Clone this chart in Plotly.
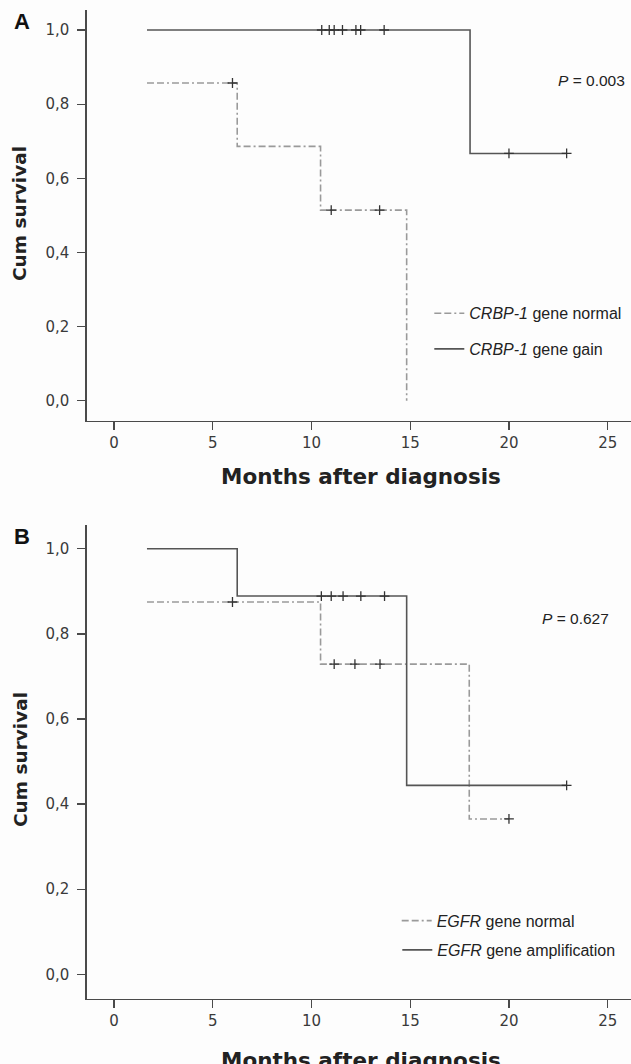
import plotly.graph_objects as go

# ---------------- data ----------------
# Panel A : CRBP-1
a_normal_t = [1.67, 6.24, 10.46, 14.82]
a_normal_s = [0.857, 0.686, 0.514, 0.0]
a_normal_cens = [6.0, 11.0, 13.45]

a_gain_t = [1.67, 18.03, 22.92]
a_gain_s = [1.0, 0.667, 0.667]
a_gain_cens = [10.52, 10.9, 11.15, 11.57, 12.25, 12.49, 13.68, 20.0, 22.92]

# Panel B : EGFR
b_normal_t = [1.67, 10.46, 17.99, 20.0]
b_normal_s = [0.875, 0.729, 0.365, 0.365]
b_normal_cens = [6.0, 11.15, 12.2, 13.47, 20.0]

b_amp_t = [1.67, 6.24, 14.82, 22.92]
b_amp_s = [1.0, 0.889, 0.444, 0.444]
b_amp_cens = [10.5, 11.0, 11.6, 12.5, 13.7, 22.92]

x_ticks = [0, 5, 10, 15, 20, 25]
y_ticks = [0.0, 0.2, 0.4, 0.6, 0.8, 1.0]
y_ticklabels = ["0,0", "0,2", "0,4", "0,6", "0,8", "1,0"]

p_a = "<i>P</i> = 0.003"
p_b = "<i>P</i> = 0.627"

# ---------------- styling ----------------
W, H = 631, 1064
BG = "#fdfdfd"
AX = "#4a4a4a"
SOLID = "#555555"
DASHC = "#9a9a9a"
MARK = "#333333"
DASH = "7px,3px,7px,3px,2px,3px"
TICKFONT = dict(family="DejaVu Sans", size=15, color="#3a3a3a")
LEGFONT = dict(family="Liberation Sans", size=16, color="#222222")
PFONT = dict(family="Liberation Sans", size=15.5, color="#222222")


def px_x(x):
    return x / W


def px_y(y):
    return 1 - y / H


def step_at(ts, ss, t):
    v = ss[0]
    for ti, si in zip(ts, ss):
        if t >= ti:
            v = si
    return v


fig = go.Figure()


def add_curve(ts, ss, cens, name, dashed, xa, ya, legend):
    fig.add_trace(go.Scatter(
        x=ts, y=ss, mode="lines", line_shape="hv", name=name,
        line=dict(color=DASHC if dashed else SOLID, width=1.6,
                  dash=DASH if dashed else "solid"),
        xaxis=xa, yaxis=ya, legend=legend, showlegend=True,
        hoverinfo="skip"))
    fig.add_trace(go.Scatter(
        x=cens, y=[step_at(ts, ss, c) for c in cens], mode="markers",
        marker=dict(symbol="cross-thin", size=7,
                    line=dict(color=MARK, width=1.3)),
        xaxis=xa, yaxis=ya, showlegend=False, hoverinfo="skip"))


add_curve(a_normal_t, a_normal_s, a_normal_cens,
          "<i>CRBP-1</i> gene normal", True, "x", "y", "legend")
add_curve(a_gain_t, a_gain_s, a_gain_cens,
          "<i>CRBP-1</i> gene gain", False, "x", "y", "legend2")
add_curve(b_normal_t, b_normal_s, b_normal_cens,
          "<i>EGFR</i> gene normal", True, "x2", "y2", "legend3")
add_curve(b_amp_t, b_amp_s, b_amp_cens,
          "<i>EGFR</i> gene amplification", False, "x2", "y2", "legend4")

xdom = [px_x(86.7), 1.0]
axis_common = dict(showline=True, linecolor=AX, linewidth=1.4, ticks="outside",
                   ticklen=8, tickwidth=1.3, tickcolor=AX, showgrid=False,
                   zeroline=False, tickfont=TICKFONT, fixedrange=True)

fig.update_layout(
    width=W, height=H, margin=dict(l=0, r=0, t=0, b=0),
    paper_bgcolor=BG, plot_bgcolor=BG,
    xaxis=dict(domain=xdom, anchor="y", range=[-1.382, 26.18],
               tickvals=x_ticks, **axis_common),
    yaxis=dict(domain=[px_y(420.7), px_y(10)], anchor="x",
               range=[-0.054, 1.054], tickvals=y_ticks,
               ticktext=y_ticklabels, ticklabelstandoff=5, **axis_common),
    xaxis2=dict(domain=xdom, anchor="y2", range=[-1.382, 26.18],
                tickvals=x_ticks, **axis_common),
    yaxis2=dict(domain=[px_y(998.5), px_y(525)], anchor="x2",
                range=[-0.057, 1.056], tickvals=y_ticks,
                ticktext=y_ticklabels, ticklabelstandoff=5, **axis_common),
    showlegend=True,
)

leg_common = dict(font=LEGFONT, bgcolor="rgba(0,0,0,0)", borderwidth=0,
                  xanchor="left", yanchor="middle", xref="paper", yref="paper")
fig.update_layout(
    legend=dict(x=px_x(469.3 - 40), y=px_y(313.3), **leg_common),
    legend2=dict(x=px_x(469.3 - 40), y=px_y(349), **leg_common),
    legend3=dict(x=px_x(436.7 - 40), y=px_y(920.7), **leg_common),
    legend4=dict(x=px_x(437.3 - 40), y=px_y(950), **leg_common),
)

ann = []
# P values
ann.append(dict(text=p_a, x=22.38, y=0.865, xref="x", yref="y", xanchor="left",
                yanchor="middle", showarrow=False, font=PFONT))
ann.append(dict(text=p_b, x=21.57, y=0.837, xref="x2", yref="y2", xanchor="left",
                yanchor="middle", showarrow=False, font=PFONT))
# panel letters
for lab, yc in (("A", 21), ("B", 536)):
    ann.append(dict(text="<b>%s</b>" % lab, x=px_x(12), y=px_y(yc), xref="paper",
                    yref="paper", xanchor="left", yanchor="middle", showarrow=False,
                    font=dict(family="Liberation Sans", size=22, color="#111111")))
# axis titles
TFONT = dict(family="DejaVu Sans", size=21.5, color="#222222")
for yc in (476, 1060):
    ann.append(dict(text="<b>Months after diagnosis</b>", x=px_x(361), y=px_y(yc),
                    xref="paper", yref="paper", xanchor="center", yanchor="middle",
                    showarrow=False, font=TFONT))
for yc in (214, 760):
    ann.append(dict(text="<b>Cum survival</b>", x=px_x(20), y=px_y(yc),
                    xref="paper", yref="paper", xanchor="center", yanchor="middle",
                    textangle=-90, showarrow=False,
                    font=dict(family="DejaVu Sans", size=18.5, color="#222222")))
fig.update_layout(annotations=ann)

fig.write_html(
    "out.html",
    config={"displayModeBar": False, "staticPlot": True},
    post_script="document.documentElement.style.margin='0';"
                "document.body.style.margin='0';"
                "document.body.style.overflow='hidden';",
)
